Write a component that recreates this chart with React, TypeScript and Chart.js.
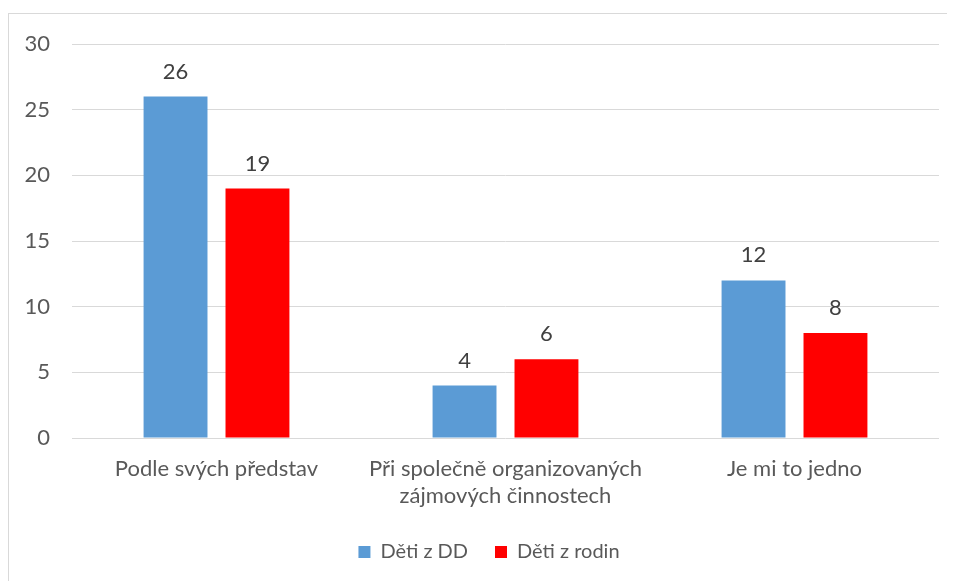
import React, { useEffect, useRef } from "react";
import { Chart, registerables } from "chart.js";

Chart.register(...registerables);

const categories: (string | string[])[] = [
  "Podle svých představ",
  ["Při společně organizovaných", "zájmových činnostech"],
  "Je mi to jedno",
];
const seriesNames = ["Děti z DD", "Děti z rodin"];
const detiZDD = [26, 4, 12];
const detiZRodin = [19, 6, 8];
const yTicks = [0, 5, 10, 15, 20, 25, 30];

const FONT = "Lato, 'Open Sans', sans-serif";
const TEXT = "#595959";
const FS = 22;

const valueLabels = {
  id: "valueLabels",
  afterDatasetsDraw(chart: any) {
    const ctx = chart.ctx;
    ctx.save();
    ctx.font = `${FS}px ${FONT}`;
    ctx.fillStyle = "#404040";
    ctx.textAlign = "center";
    ctx.textBaseline = "middle";
    chart.data.datasets.forEach((ds: any, i: number) => {
      const meta = chart.getDatasetMeta(i);
      meta.data.forEach((bar: any, j: number) => {
        ctx.fillText(String(ds.data[j]), bar.x, bar.y - 25);
      });
    });
    ctx.restore();
  },
};

const legendShift = {
  id: "legendShift",
  afterLayout(chart: any) {
    if (chart.legend) {
      chart.legend.left += 15;
      chart.legend.right += 15;
    }
  },
};

export default function App() {
  const ref = useRef<HTMLCanvasElement>(null);
  useEffect(() => {
    if (!ref.current) return;
    const chart = new Chart(ref.current, {
      type: "bar",
      data: {
        labels: categories,
        datasets: [
          {
            label: seriesNames[0],
            data: detiZDD,
            backgroundColor: "#5b9bd5",
            categoryPercentage: 0.567,
            barPercentage: 0.78,
          },
          {
            label: seriesNames[1],
            data: detiZRodin,
            backgroundColor: "#ff0000",
            categoryPercentage: 0.567,
            barPercentage: 0.78,
          },
        ],
      },
      options: {
        responsive: false,
        animation: false,
        layout: { padding: { top: 30, right: 16, left: 0, bottom: 9 } },
        plugins: {
          legend: {
            position: "bottom",
            labels: {
              color: TEXT,
              font: { family: FONT, size: 20 },
              boxWidth: 12,
              boxHeight: 12,
              padding: 27,
            },
          },
          tooltip: { enabled: false },
        },
        scales: {
          x: {
            grid: { display: false, drawTicks: false },
            border: { display: false },
            ticks: {
              color: TEXT,
              font: { family: FONT, size: FS, lineHeight: 1.25 },
              padding: 17,
              maxRotation: 0,
              autoSkip: false,
            },
            afterFit(scale: any) {
              scale.height = 77;
              scale.paddingLeft = 0;
              scale.paddingRight = 0;
            },
          },
          y: {
            min: 0,
            max: 30,
            afterBuildTicks(scale: any) {
              scale.ticks = yTicks.map((v) => ({ value: v }));
            },
            grid: { color: "#d9d9d9", lineWidth: 1, drawTicks: false },
            border: { display: false },
            ticks: {
              color: TEXT,
              font: { family: FONT, size: FS },
              padding: 22,
            },
            afterFit(scale: any) {
              scale.width = 63;
              scale.paddingTop = 0;
              scale.paddingBottom = 0;
            },
          },
        },
      },
      plugins: [valueLabels, legendShift],
    });
    return () => chart.destroy();
  }, []);
  return (
    <div
      style={{
        marginTop: 5,
        borderLeft: "1px solid #d9d9d9",
        borderTop: "1px solid #d9d9d9",
        width: 946,
        height: 567,
        overflow: "hidden",
      }}
    >
      <canvas ref={ref} width={946} height={567} style={{ display: "block" }} />
    </div>
  );
}
